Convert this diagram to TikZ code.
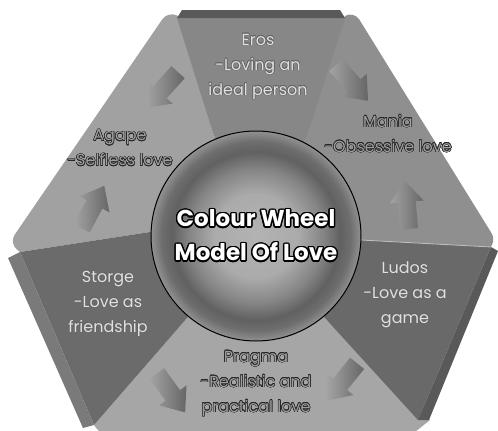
\documentclass[tikz,border=0pt]{standalone}
\usepackage{fontspec}
\setmainfont{Poppins}
\usepackage[copies]{contour}
\definecolor{agapegray}{gray}{0.63}
\definecolor{erosgray}{gray}{0.53}
\definecolor{maniagray}{gray}{0.56}
\definecolor{storgegray}{gray}{0.42}
\definecolor{ludosgray}{gray}{0.41}
\definecolor{pragmagray}{gray}{0.65}
\definecolor{sidegray}{gray}{0.35}
\pgfdeclareradialshading{bowl}{\pgfpoint{0bp}{0bp}}{color(0bp)=(black!30); color(10bp)=(black!33); color(16bp)=(black!48); color(20bp)=(black!62); color(22.5bp)=(black!57); color(25bp)=(black!43); color(50bp)=(black!43)}
\contourlength{0.55pt}
\newcommand{\uptxt}[1]{\contour{black!60}{\textcolor{black!12}{#1}}}
\newcommand{\lowtxt}[1]{\contour{black!85}{\textcolor{black!38}{#1}}}
\newcommand{\hubtxt}[1]{\contourlength{1.4pt}\contour{black}{\textcolor{white}{#1}}}
\begin{document}
\begin{tikzpicture}[x=1pt,y=-1pt,
    lbl/.style={align=center,inner sep=0pt,font=\fontsize{16}{25}\selectfont},
    blockarrow/.pic={\shade[left color=black!36,right color=black!60] (-24,-9) -- (3,-9) -- (3,-17) -- (24,0) -- (3,17) -- (3,9) -- (-24,9) -- cycle;},
    hub/.style={circle,draw=black,line width=1pt,shading=bowl,minimum size=210pt,align=center,font=\bfseries\fontsize{23}{34}\selectfont}]
    \useasboundingbox (0,0) rectangle (498,431);
    \fill[white] (0,0) rectangle (498,431);

    % light panels
    \fill[agapegray] (256,236) -- (213,133) -- (178,16) [rounded corners=10] -- (168,11) -- (9,243) [sharp corners] -- (20,252) -- (150,232) -- cycle;
    \fill[maniagray] (256,236) -- (307,137) -- (345,16) [rounded corners=10] -- (354,11) -- (497,242) [sharp corners] -- (491,247) -- (361,240) -- cycle;
    \fill[pragmagray] (256,236) -- (187,318) -- (94,425) [rounded corners=10] -- (102,436) -- (410,436) [sharp corners] -- (430,420) -- (325,318) -- cycle;

    % raised panels
    \fill[erosgray] (256,236) -- (213,133) -- (177,18) -- (345,18) -- (307,137) -- cycle;
    \fill[sidegray] (177,18) -- (182,10) -- (340,10) -- (345,18) -- cycle;
    \fill[storgegray] (256,236) -- (150,232) -- (20,252) -- (94,425) -- (187,318) -- cycle;
    \fill[sidegray!80!white] (20,252) -- (8,258) -- (83,428) -- (94,425) -- cycle;
    \fill[ludosgray] (256,236) -- (361,240) -- (491,247) -- (418,420) -- (325,318) -- cycle;
    \fill[sidegray] (491,247) -- (498,251) -- (429,420) -- (418,420) -- cycle;
    \draw[black!25,line width=0.8pt] (361,240) -- (491,247);
    \draw[black!45,line width=0.5pt] (307,137) -- (345,18);

    % block arrows
    \pic (arEA) [rotate=228] at (162,90) {blockarrow};
    \pic (arSA) [rotate=62] at (93,207) {blockarrow};
    \pic (arEM) [rotate=-48] at (352,83) {blockarrow};
    \pic (arLM) [rotate=95] at (407,205) {blockarrow};
    \pic (arSP) [rotate=-54] at (171,393) {blockarrow};
    \pic (arLP) [rotate=231] at (342,382) {blockarrow};

    % hub
    \node [hub](hub) at (256,236) {\hubtxt{Colour Wheel}\\\hubtxt{Model Of Love}};

    % labels
    \node [lbl](eros) at (258,67) {\uptxt{Eros}\\\uptxt{-Loving an}\\\uptxt{ideal person}};
    \node [lbl](mania) at (388,134) {\lowtxt{Mania}\\\lowtxt{-Obsessive love}};
    \node [lbl](agape) at (120,148) {\lowtxt{Agape}\\\lowtxt{-Selfless love}};
    \node [lbl](storge) at (108,304) {\uptxt{Storge}\\\uptxt{-Love as}\\\uptxt{friendship}};
    \node [lbl](ludos) at (405,295) {\uptxt{Ludos}\\\uptxt{-Love as a}\\\uptxt{game}};
    \node [lbl](pragma) at (256,384) {\lowtxt{Pragma}\\\lowtxt{-Realistic and}\\\lowtxt{practical love}};
\end{tikzpicture}
\end{document}
